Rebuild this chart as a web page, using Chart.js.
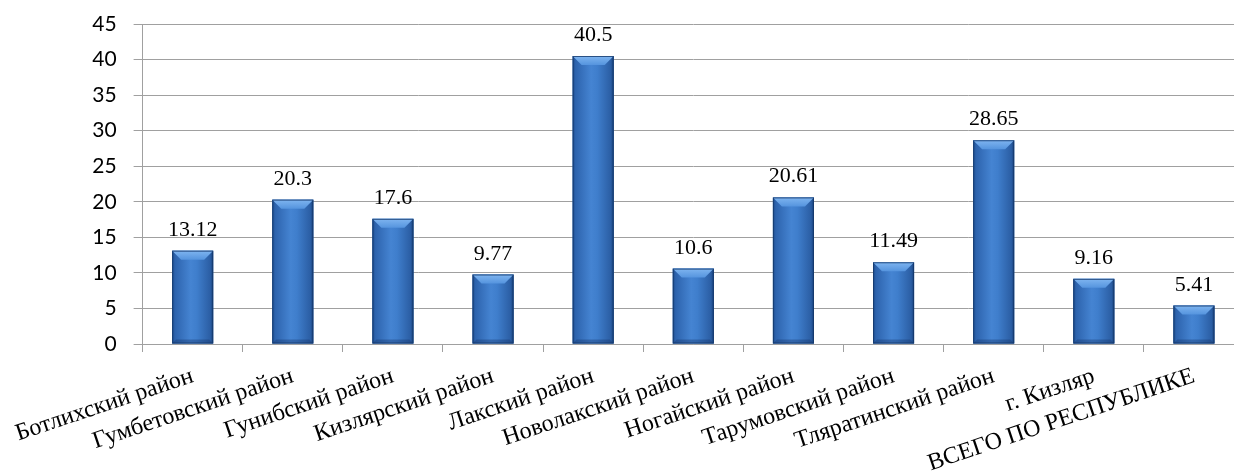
<!DOCTYPE html>
<html>
<head>
<meta charset="utf-8">
<script src="https://cdn.jsdelivr.net/npm/chart.js@4/dist/chart.umd.min.js"></script>
<style>
  html, body { margin: 0; padding: 0; background: #ffffff; overflow: hidden; }
  #wrap { width: 1250px; height: 474px; }
</style>
</head>
<body>
<div id="wrap"><canvas id="c" width="1250" height="474"></canvas></div>
<script>
// Районы и показатели
const categories = [
  'Ботлихский район',
  'Гумбетовский район',
  'Гунибский район',
  'Кизлярский район',
  'Лакский район',
  'Новолакский район',
  'Ногайский район',
  'Тарумовский район',
  'Тляратинский район',
  'г. Кизляр',
  'ВСЕГО ПО РЕСПУБЛИКЕ'
];
const values = [13.12, 20.3, 17.6, 9.77, 40.5, 10.6, 20.61, 11.49, 28.65, 9.16, 5.41];
const yMax = 45;
const yStep = 5;

const gridGray = '#a0a0a0';
const serifFamily = "'Liberation Serif', 'Times New Roman', serif";
const sansFamily = "Lato, 'Open Sans', sans-serif";

// Bevelled blue bars painted over the library's bar elements
const bevelBars = {
  id: 'bevelBars',
  afterDatasetsDraw(chart) {
    const ctx = chart.ctx;
    chart.getDatasetMeta(0).data.forEach((bar) => {
      const w = bar.width;
      const left = bar.x - w / 2;
      const right = bar.x + w / 2;
      const top = bar.y;
      const bottom = bar.base;
      const h = bottom - top;
      const b = Math.min(9, h / 2);
      ctx.save();
      // body
      const g = ctx.createLinearGradient(left, 0, right, 0);
      g.addColorStop(0, '#1d4c8c');
      g.addColorStop(0.07, '#2d63ad');
      g.addColorStop(0.45, '#4584d2');
      g.addColorStop(0.6, '#3f7ecc');
      g.addColorStop(0.93, '#2b5ea4');
      g.addColorStop(1, '#17407a');
      ctx.fillStyle = g;
      ctx.fillRect(left, top, w, h);
      // top bevel
      const tg = ctx.createLinearGradient(0, top, 0, top + b);
      tg.addColorStop(0, '#7fb5f0');
      tg.addColorStop(1, '#5594de');
      ctx.fillStyle = tg;
      ctx.beginPath();
      ctx.moveTo(left, top);
      ctx.lineTo(right, top);
      ctx.lineTo(right - b, top + b);
      ctx.lineTo(left + b, top + b);
      ctx.closePath();
      ctx.fill();
      // bottom bevel
      ctx.fillStyle = 'rgba(20,50,100,0.35)';
      ctx.beginPath();
      ctx.moveTo(left, bottom);
      ctx.lineTo(right, bottom);
      ctx.lineTo(right - 4, bottom - 4);
      ctx.lineTo(left + 4, bottom - 4);
      ctx.closePath();
      ctx.fill();
      // outline
      ctx.strokeStyle = 'rgba(20,55,105,0.8)';
      ctx.lineWidth = 1;
      ctx.strokeRect(left + 0.5, top + 0.5, w - 1, h - 1);
      ctx.restore();
    });
  }
};

// Value labels above each bar
const valueLabels = {
  id: 'valueLabels',
  afterDatasetsDraw(chart) {
    const ctx = chart.ctx;
    const ds = chart.data.datasets[0];
    ctx.save();
    ctx.font = '22px ' + serifFamily;
    ctx.fillStyle = '#000000';
    ctx.textAlign = 'center';
    ctx.textBaseline = 'alphabetic';
    chart.getDatasetMeta(0).data.forEach((bar, i) => {
      ctx.fillText(String(ds.data[i]), bar.x, bar.y - 15);
    });
    ctx.restore();
  }
};

new Chart(document.getElementById('c'), {
  type: 'bar',
  data: {
    labels: categories,
    datasets: [{
      data: values,
      backgroundColor: '#3d7cc9',
      borderWidth: 0,
      barPercentage: 0.82,
      categoryPercentage: 0.5
    }]
  },
  options: {
    responsive: false,
    animation: false,
    devicePixelRatio: 1,
    layout: { padding: { top: 24, right: 6, bottom: 0, left: 0 } },
    plugins: {
      legend: { display: false },
      tooltip: { enabled: false },
      title: { display: false }
    },
    scales: {
      x: {
        offset: true,
        grid: {
          display: true,
          offset: true,
          drawOnChartArea: false,
          drawTicks: true,
          tickLength: 8,
          color: gridGray
        },
        border: { display: true, color: gridGray, width: 1 },
        ticks: {
          autoSkip: false,
          minRotation: 18.5,
          maxRotation: 18.5,
          padding: 10,
          color: '#000000',
          font: { family: serifFamily, size: 24 }
        },
        afterFit(scale) { scale.height = 130; }
      },
      y: {
        min: 0,
        max: yMax,
        ticks: {
          stepSize: yStep,
          padding: 17,
          color: '#000000',
          font: { family: sansFamily, size: 21 }
        },
        grid: {
          color: gridGray,
          lineWidth: 1,
          drawTicks: true,
          tickLength: 9
        },
        border: { display: true, color: gridGray, width: 1 },
        afterFit(scale) {
          scale.width = 142;
          scale.paddingTop = 0;
          scale.paddingBottom = 0;
        }
      }
    }
  },
  plugins: [bevelBars, valueLabels]
});
</script>
</body>
</html>
